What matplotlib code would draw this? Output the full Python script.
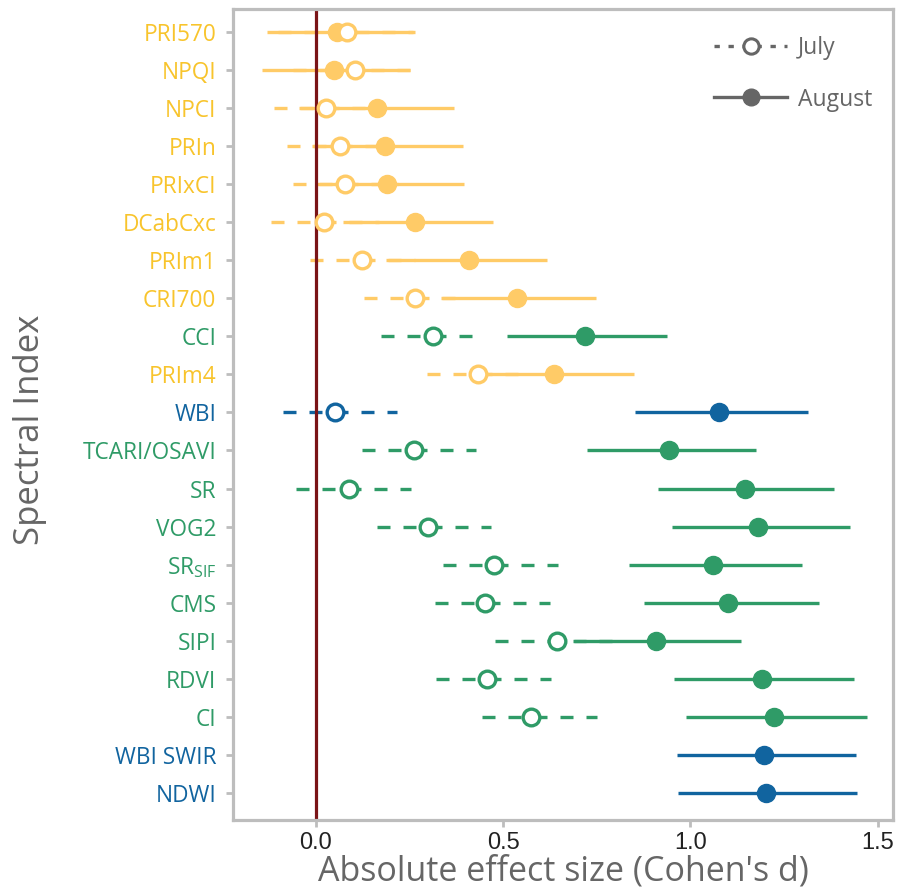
import matplotlib
matplotlib.use("Agg")
import matplotlib.pyplot as plt
from matplotlib.lines import Line2D
import numpy as np

# ---------------- data ----------------
indices = ["PRI570", "NPQI", "NPCI", "PRIn", "PRIxCI", "DCabCxc", "PRIm1", "CRI700",
           "CCI", "PRIm4", "WBI", "TCARI/OSAVI", "SR", "VOG2", r"SR$_{\mathregular{SIF}}$",
           "CMS", "SIPI", "RDVI", "CI", "WBI SWIR", "NDWI"]
groups = ["Y", "Y", "Y", "Y", "Y", "Y", "Y", "Y", "G", "Y", "B", "G", "G", "G", "G",
          "G", "G", "G", "G", "B", "B"]

july_est = [0.083, 0.104, 0.028, 0.065, 0.079, 0.023, 0.125, 0.266, 0.312, 0.432, 0.052,
            0.262, 0.089, 0.300, 0.475, 0.451, 0.644, 0.456, 0.575, None, None]
july_lo = [-0.10, -0.06, -0.112, -0.075, -0.061, -0.12, -0.015, 0.128, 0.175, 0.296, -0.088,
           0.123, -0.051, 0.163, 0.339, 0.319, 0.479, 0.320, 0.444, None, None]
july_hi = [0.26, 0.270, 0.17, 0.205, 0.22, 0.17, 0.265, 0.40, 0.45, 0.57, 0.216,
           0.428, 0.255, 0.467, 0.647, 0.624, 0.81, 0.627, 0.750, None, None]

aug_est = [0.058, 0.049, 0.163, 0.186, 0.190, 0.266, 0.408, 0.536, 0.720, 0.636, 1.076,
           0.943, 1.145, 1.181, 1.060, 1.100, 0.909, 1.191, 1.223, 1.197, 1.202]
aug_lo = [-0.130, -0.143, -0.043, -0.010, 0.0, 0.072, 0.188, 0.334, 0.51, 0.42, 0.852,
          0.725, 0.914, 0.951, 0.836, 0.875, 0.689, 0.957, 0.988, 0.963, 0.966]
aug_hi = [0.266, 0.252, 0.369, 0.392, 0.396, 0.472, 0.617, 0.749, 0.937, 0.850, 1.313,
          1.174, 1.384, 1.426, 1.297, 1.342, 1.136, 1.435, 1.470, 1.441, 1.445]

xticks = [0.0, 0.5, 1.0, 1.5]
xtick_labels = ["0.0", "0.5", "1.0", "1.5"]

# ---------------- style ----------------
mark_col = {"Y": "#FFCB67", "G": "#2F9B67", "B": "#11649F"}
text_col = {"Y": "#F8C42C", "G": "#2F9B67", "B": "#11649F"}
grey = "#666666"
spine_col = "#BDBDBD"
label_font = ["Open Sans", "DejaVu Sans"]
tick_font = ["Liberation Sans", "DejaVu Sans"]

fig = plt.figure(figsize=(8.98, 8.91), dpi=100)
ax = fig.add_axes([0.2595, 0.0797, 0.9944 - 0.2595, 0.9899 - 0.0797])

ypos = np.arange(len(indices))
lw = 2.4
dash = (3.9, 3.9)

ax.axvline(0, color="#7A1417", lw=2.3, zorder=2)

for i, y in enumerate(ypos):
    c = mark_col[groups[i]]
    ax.plot([aug_lo[i], aug_hi[i]], [y, y], color=c, lw=lw, solid_capstyle="butt", zorder=1)
    if july_est[i] is not None:
        ax.plot([july_lo[i], july_hi[i]], [y, y], color=c, lw=lw, dashes=dash,
                dash_capstyle="butt", zorder=1.5)
    ax.plot([aug_est[i]], [y], "o", color=c, ms=13, mec=c, zorder=3)
    if july_est[i] is not None:
        ax.plot([july_est[i]], [y], "o", mfc="white", mec=c, ms=12, mew=2.4, zorder=4)

ax.set_xlim(-0.22, 1.54)
ax.set_ylim(len(indices) - 1 + 0.71, -0.6)

ax.set_yticks(ypos)
ax.set_yticklabels(indices)
for lab, g in zip(ax.get_yticklabels(), groups):
    lab.set_color(text_col[g])
    lab.set_fontfamily(label_font)
    lab.set_fontsize(16.3)

ax.set_xticks(xticks)
ax.set_xticklabels(xtick_labels)
for lab in ax.get_xticklabels():
    lab.set_fontfamily(tick_font)
    lab.set_fontsize(17)
    lab.set_color("#222222")

ax.tick_params(axis="both", length=5, width=2, color=spine_col, direction="out")
ax.tick_params(axis="y", pad=7)
ax.tick_params(axis="x", pad=4)

for s in ax.spines.values():
    s.set_color(spine_col)
    s.set_linewidth(2.3)

ax.set_xlabel("Absolute effect size (Cohen's d)", fontsize=24.5, color=grey,
              family=label_font, labelpad=0)
ax.set_ylabel("Spectral Index", fontsize=25, color=grey, family=label_font)
ax.yaxis.set_label_coords(-0.282, 0.481)

handles = [
    Line2D([], [], color=grey, lw=lw, dashes=(1.6, 2.6), marker="o", mfc="white",
           mec=grey, ms=11, mew=2.2),
    Line2D([], [], color=grey, lw=lw, marker="o", mfc=grey, mec=grey, ms=12),
]
leg = ax.legend(handles, ["July", "August"], loc="upper right", frameon=False,
                handlelength=3.2, labelspacing=1.2, handletextpad=0.45,
                prop={"family": label_font, "size": 16.5}, borderaxespad=0,
                bbox_to_anchor=(0.982, 0.978))
for t in leg.get_texts():
    t.set_color(grey)

fig.savefig("out.png", dpi=100)
